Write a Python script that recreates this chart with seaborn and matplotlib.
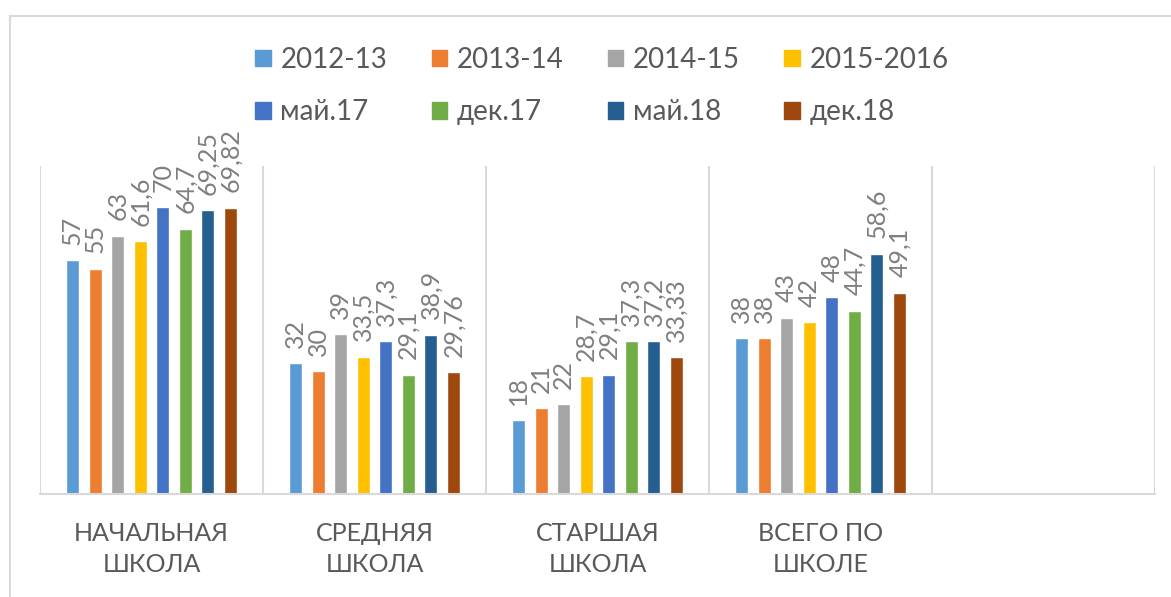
# -*- coding: utf-8 -*-
# grouped bar chart: results by school level and period

import matplotlib
matplotlib.use("Agg")
import matplotlib.pyplot as plt
import matplotlib.patches as patches
import seaborn as sns
import pandas as pd

# data
categories = ["НАЧАЛЬНАЯ\nШКОЛА", "СРЕДНЯЯ\nШКОЛА", "СТАРШАЯ\nШКОЛА", "ВСЕГО ПО\nШКОЛЕ"]
periods = ["2012-13", "2013-14", "2014-15", "2015-2016", "май.17", "дек.17", "май.18", "дек.18"]
v_2012_13 = [57, 32, 18, 38]
v_2013_14 = [55, 30, 21, 38]
v_2014_15 = [63, 39, 22, 43]
v_2015_16 = [61.6, 33.5, 28.7, 42]
v_may17 = [70, 37.3, 29.1, 48]
v_dec17 = [64.7, 29.1, 37.3, 44.7]
v_may18 = [69.25, 38.9, 37.2, 58.6]
v_dec18 = [69.82, 29.76, 33.33, 49.1]
series = [v_2012_13, v_2013_14, v_2014_15, v_2015_16, v_may17, v_dec17, v_may18, v_dec18]

colors = ["#5B9BD5", "#ED7D31", "#A5A5A5", "#FFC000", "#4472C4", "#70AD47", "#255E91", "#9E480E"]

rows = []
for period, vals in zip(periods, series):
    for cat, v in zip(categories, vals):
        rows.append({"cat": cat, "period": period, "value": v})
df = pd.DataFrame(rows)

sns.set_style("white")
plt.rcParams["font.family"] = ["Lato", "DejaVu Sans"]

W, H = 1171, 597
fig = plt.figure(figsize=(W / 100, H / 100), dpi=100)
ax = fig.add_axes([40 / W, 1 - 494 / H, (1155 - 40) / W, (494 - 166) / H])

order = categories + [""]
sns.barplot(data=df, x="cat", y="value", hue="period", order=order, hue_order=periods,
            palette=colors, width=0.81, gap=0.42, ax=ax, legend=False, saturation=1)

# value labels, decimal comma
for cont in ax.containers:
    labels = [f"{v:g}".replace(".", ",") for v in cont.datavalues]
    ax.bar_label(cont, labels=labels, rotation=90, padding=11, fontsize=18, color="#7F7F7F")

ax.set_ylim(0, 80)
ax.set_xlim(-0.5, 4.5)
ax.set_yticks([])
ax.set_xlabel("")
ax.set_ylabel("")

# category separators
ax.set_xticks([i - 0.5 for i in range(6)], minor=True)
ax.grid(True, which="minor", axis="x", color="#D9D9D9", lw=1.5)
ax.tick_params(axis="x", which="both", length=0)
ax.tick_params(axis="x", which="major", pad=20, labelsize=18, labelcolor="#595959")
for lbl in ax.get_xticklabels():
    lbl.set_linespacing(1.45)

for s in ["top", "left", "right"]:
    ax.spines[s].set_visible(False)
ax.spines["bottom"].set_color("#D9D9D9")
ax.spines["bottom"].set_linewidth(1.5)

# legend, filled row by row
handles = [patches.Patch(color=c, label=p) for p, c in zip(periods, colors)]
handles = [handles[i] for i in [0, 4, 1, 5, 2, 6, 3, 7]]
leg = fig.legend(handles=handles, loc="center", bbox_to_anchor=(602 / W, 1 - 86 / H), ncol=4,
                 frameon=False, fontsize=20, handlelength=0.55, handleheight=0.55,
                 handletextpad=0.35, columnspacing=1.6, labelspacing=0.95)
for t in leg.get_texts():
    t.set_color("#595959")

# chart border
fig.patches.append(patches.Rectangle((10 / W, -0.1), 1.2, 1.1 - 16 / H, transform=fig.transFigure,
                                     fill=False, edgecolor="#D9D9D9", lw=1.5))

fig.savefig("out.png", dpi=100)
